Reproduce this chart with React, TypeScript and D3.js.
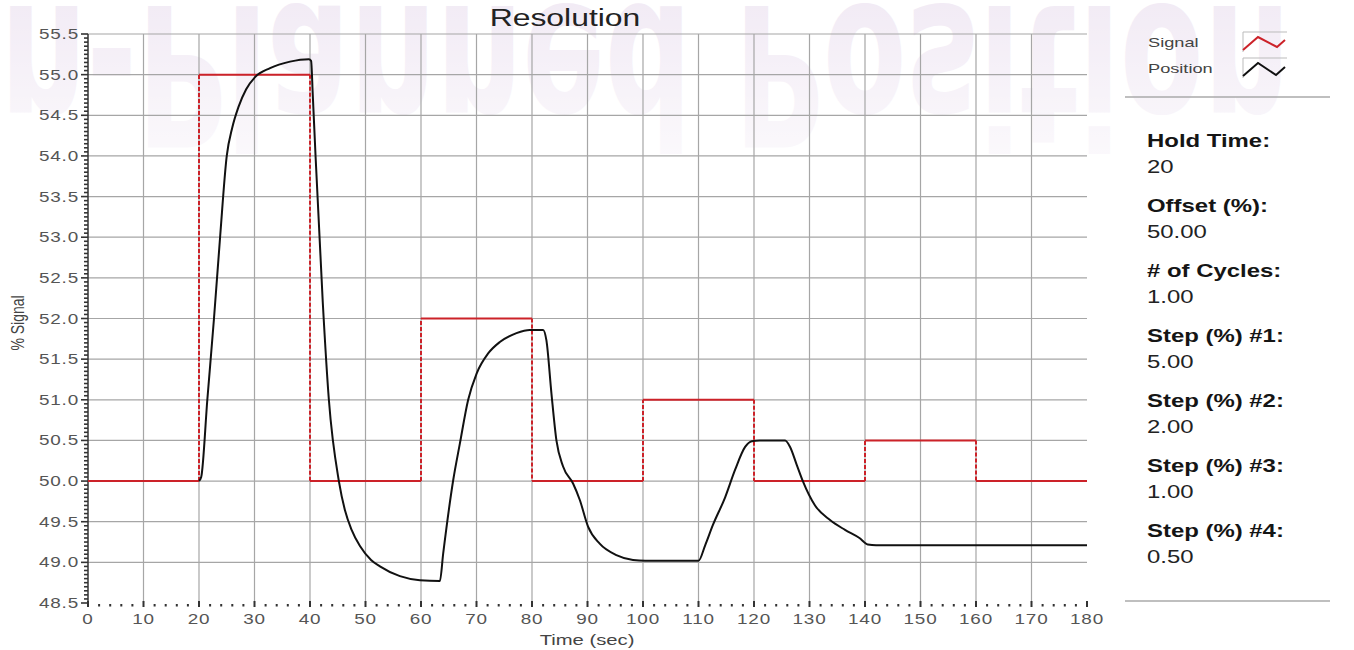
import React from "react";
import * as d3 from "d3";

// Step command: level held between consecutive switch times
const signalTimes = [0, 20, 40, 60, 80, 100, 120, 140, 160, 180];
const signalLevels = [50, 55, 50, 52, 50, 51, 50, 50.5, 50];

// Measured valve position response
const positionTime = [
  20.0, 20.4, 21.5, 22.7, 23.8, 25.0, 26.0, 27.1, 28.5, 30.1, 32.8, 36.4, 39.8,
  40.2, 40.5, 41.0, 42.3, 43.4, 45.2, 46.3, 47.5, 49.0, 51.0, 52.6, 56.2, 59.8,
  63.4, 64.0, 65.8, 67.0, 68.5, 70.0, 72.1, 74.2, 77.2, 79.6, 82.0, 82.6, 83.5,
  84.4, 85.6, 87.4, 88.6, 90.1, 92.2, 95.2, 98.2, 100.4, 110.0, 111.2, 112.6,
  114.8, 116.6, 118.4, 119.6, 121.0, 125.6, 126.5, 127.7, 128.8, 131.0, 133.7,
  136.4, 139.0, 140.5, 142.0, 180.0,
];
const positionValue = [
  50.0, 50.05, 51.0, 52.0, 53.0, 54.0, 54.35, 54.6, 54.82, 54.97, 55.08, 55.16, 55.19,
  55.17, 54.75, 54.0, 52.2, 51.0, 50.0, 49.64, 49.4, 49.2, 49.03, 48.95, 48.83, 48.78,
  48.77, 49.11, 50.01, 50.46, 51.0, 51.32, 51.57, 51.71, 51.82, 51.86, 51.86, 51.73, 51.08,
  50.5, 50.18, 49.97, 49.77, 49.44, 49.23, 49.09, 49.03, 49.02, 49.02, 49.21, 49.46,
  49.8, 50.14, 50.42, 50.49, 50.5, 50.5, 50.42, 50.2, 50.0, 49.7, 49.52,
  49.4, 49.3, 49.22, 49.21, 49.21,
];

const yTickValues = [48.5, 49, 49.5, 50, 50.5, 51, 51.5, 52, 52.5, 53, 53.5, 54, 54.5, 55, 55.5];
const xTickValues = [0, 10, 20, 30, 40, 50, 60, 70, 80, 90, 100, 110, 120, 130, 140, 150, 160, 170, 180];

const panelLabels = ["Hold Time:", "Offset (%):", "# of Cycles:", "Step (%) #1:", "Step (%) #2:", "Step (%) #3:", "Step (%) #4:"];
const panelValues = ["20", "50.00", "1.00", "5.00", "2.00", "1.00", "0.50"];

const legendNames = ["Signal", "Position"];

const RED = "#cc2229";
const BLACK = "#111";
const GRID = "#a6a6a6";
const FONT = "'Liberation Sans', Arial, sans-serif";

function SText({ x, y, sx = 1.35, anchor = "start", children, ...rest }: any) {
  return (
    <text transform={`translate(${x},${y}) scale(${sx},1)`} textAnchor={anchor} fontFamily={FONT} {...rest}>
      {children}
    </text>
  );
}

export default function App() {
  const W = 1354;
  const H = 650;
  const x = d3.scaleLinear().domain([0, 180]).range([88, 1087]);
  const y = d3.scaleLinear().domain([48.5, 55.5]).range([603, 34]);

  const positionLine = d3
    .line<number>()
    .x((_, i) => x(positionTime[i]))
    .y((v) => y(v))
    .curve(d3.curveMonotoneX);

  const minorY = d3.range(0, 141).map((i) => 48.5 + i * 0.05);
  const minorX = d3.range(0, 91).map((i) => i * 2);

  const legendIcons = [
    { top: 32, pts: [[1243, 50], [1258, 37], [1277, 47], [1285, 40]], color: RED },
    { top: 58, pts: [[1243, 76], [1258, 63], [1276, 75], [1285, 67]], color: BLACK },
  ];

  return (
    <svg width={W} height={H} style={{ position: "absolute", left: 0, top: 0, display: "block", background: "#fff" }}>
      <defs>
        <linearGradient id="bannerFade" x1="0" y1="0" x2="0" y2="1">
          <stop offset="0" stopColor="#fff" stopOpacity={0} />
          <stop offset="1" stopColor="#fff" stopOpacity={0.7} />
        </linearGradient>
      </defs>
      <rect x={0} y={0} width={W} height={H} fill="#fff" />

      {/* faint reflected banner behind the chart, fading downward */}
      <text
        transform="translate(0,6) scale(1,-1)"
        x={0}
        y={0}
        fontSize={195}
        fontWeight="bold"
        fontFamily="'Liberation Sans Narrow', 'DejaVu Sans Condensed', sans-serif"
        textLength={1290}
        lengthAdjust="spacingAndGlyphs"
        fill="#f2ebf5"
      >
        n-Planned Position
      </text>
      <rect x={0} y={0} width={1300} height={160} fill="url(#bannerFade)" />

      {/* grid */}
      {xTickValues.filter((t) => t > 0 && t < 180).map((t) => (
        <line key={`gx${t}`} x1={x(t)} x2={x(t)} y1={y(55.5)} y2={y(48.5)} stroke={GRID} strokeWidth={1.2} />
      ))}
      {yTickValues.filter((v) => v > 48.5).map((v) => (
        <line key={`gy${v}`} x1={x(0)} x2={x(180)} y1={y(v)} y2={y(v)} stroke={GRID} strokeWidth={1.2} />
      ))}

      {/* y axis */}
      <line x1={x(0)} x2={x(0)} y1={y(55.5)} y2={y(48.5)} stroke="#333" strokeWidth={1.5} />
      {minorY.map((v, i) => (
        <line key={`my${i}`} x1={x(0) - (i % 10 === 0 ? 7 : 4)} x2={x(0)} y1={y(v)} y2={y(v)} stroke="#333" strokeWidth={1.6} />
      ))}
      {yTickValues.map((v) => (
        <SText key={`ly${v}`} x={79} y={y(v) + 5} anchor="end" fontSize={14} fill="#555" letterSpacing={0.6}>
          {d3.format(".1f")(v)}
        </SText>
      ))}

      {/* x axis: dotted baseline with major ticks */}
      {minorX.map((t) =>
        t % 10 === 0 ? (
          <rect key={`mx${t}`} x={x(t) - 1} y={601} width={2} height={6} fill="#333" />
        ) : (
          <rect key={`mx${t}`} x={x(t) - 1} y={604} width={2} height={2.5} fill="#333" />
        )
      )}
      {xTickValues.map((t) => (
        <SText key={`lx${t}`} x={x(t)} y={624} anchor="middle" fontSize={14} fill="#555" letterSpacing={0.6}>
          {t}
        </SText>
      ))}

      {/* signal: solid holds, dashed transitions */}
      {signalLevels.map((lv, i) => (
        <line key={`sh${i}`} x1={x(signalTimes[i])} x2={x(signalTimes[i + 1])} y1={y(lv)} y2={y(lv)} stroke={RED} strokeWidth={2} />
      ))}
      {signalLevels.slice(1).map((lv, i) => (
        <line
          key={`sv${i}`}
          x1={x(signalTimes[i + 1])}
          x2={x(signalTimes[i + 1])}
          y1={y(signalLevels[i])}
          y2={y(lv)}
          stroke={RED}
          strokeWidth={2}
          strokeDasharray="4,2"
        />
      ))}

      {/* position */}
      <path d={positionLine(positionValue) || ""} fill="none" stroke={BLACK} strokeWidth={2} strokeLinejoin="round" />

      {/* titles */}
      <SText x={565} y={26} anchor="middle" fontSize={24} fill="#222" sx={1.33}>
        Resolution
      </SText>
      <SText x={587} y={645} anchor="middle" fontSize={15} fill="#444">
        Time (sec)
      </SText>
      <text transform="translate(24,323) scale(1.35,1) rotate(-90)" textAnchor="middle" fontFamily={FONT} fontSize={14} fill="#444">
        % Signal
      </text>

      {/* legend */}
      {legendNames.map((name, i) => (
        <SText key={name} x={1148} y={47 + i * 26} fontSize={13} fill="#444" sx={1.4}>
          {name}
        </SText>
      ))}
      {legendIcons.map((ic, i) => (
        <g key={`ic${i}`}>
          <path d={`M1243,${ic.top + 20}V${ic.top}H1287`} fill="none" stroke="#bbb" strokeWidth={1} />
          <path d={d3.line()(ic.pts as [number, number][]) || ""} fill="none" stroke={ic.color} strokeWidth={2} />
        </g>
      ))}
      <line x1={1125} x2={1330} y1={97} y2={97} stroke="#aaa" strokeWidth={1.5} />

      {/* settings panel */}
      {panelLabels.map((lab, i) => (
        <g key={lab}>
          <SText x={1147} y={147 + i * 65} fontSize={18} fontWeight="bold" fill="#151515" sx={1.33}>
            {lab}
          </SText>
          <SText x={1147} y={173 + i * 65} fontSize={18} fill="#222" sx={1.33}>
            {panelValues[i]}
          </SText>
        </g>
      ))}
      <line x1={1125} x2={1330} y1={601} y2={601} stroke="#aaa" strokeWidth={1.5} />
    </svg>
  );
}
